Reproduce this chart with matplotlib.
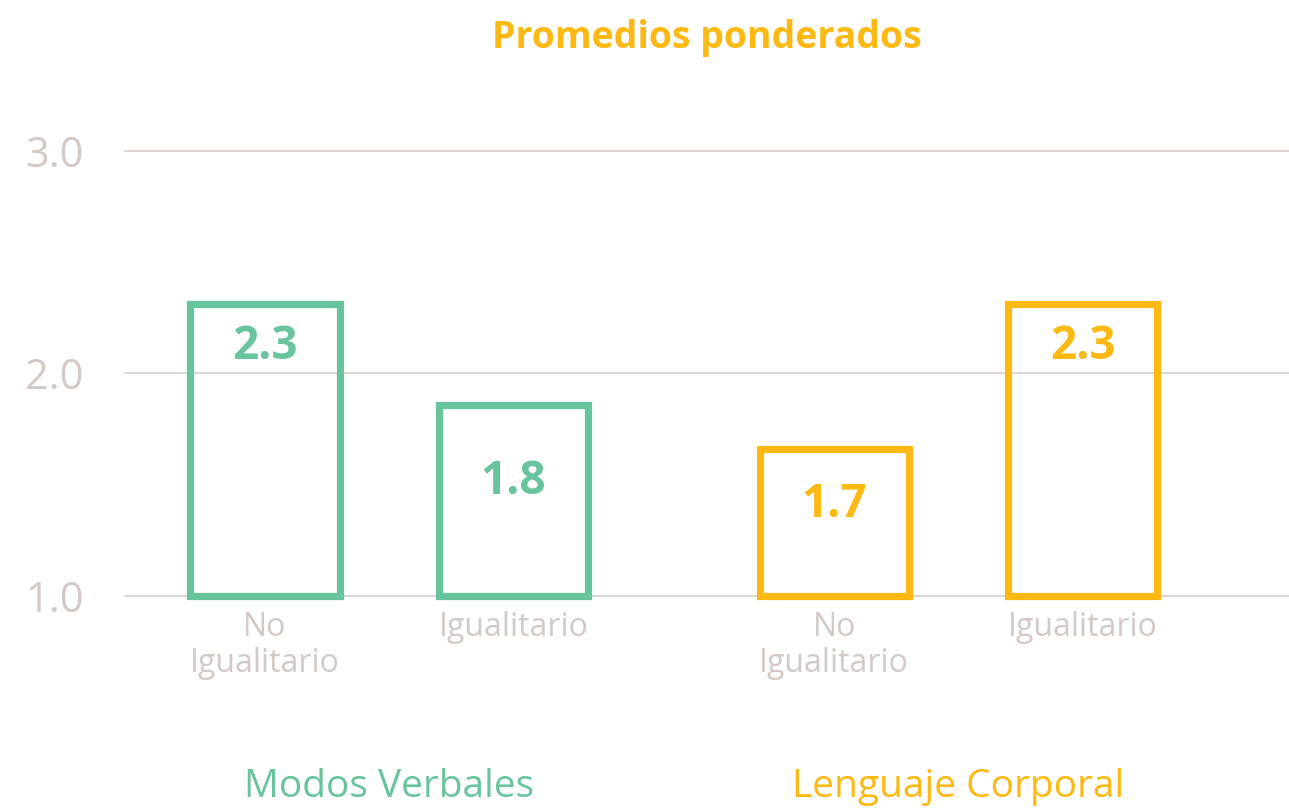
import numpy as np
import matplotlib
matplotlib.use("Agg")
from matplotlib import pyplot as plt

# data
groups = ["Modos Verbales", "Lenguaje Corporal"]
categories = ["No\nIgualitario", "Igualitario", "No\nIgualitario", "Igualitario"]
values = [2.31, 1.86, 1.66, 2.31]
value_labels = ["2.3", "1.8", "1.7", "2.3"]
yticks = [1.0, 2.0, 3.0]

green = "#68C49C"
orange = "#FDB913"
grey = "#D3CAC5"
bar_colors = [green, green, orange, orange]
group_colors = [green, orange]

plt.rcParams['font.family'] = ['Open Sans', 'DejaVu Sans']

fig = plt.figure(figsize=(12.89, 8.11), dpi=100)
ax = fig.add_axes([0.097, 0.265, 0.903, 0.549])

x = np.array([0, 1, 2.29, 3.29])
ax.bar(x, np.array(values) - 1, bottom=1.0, width=0.6, fill=False,
       edgecolor=bar_colors, linewidth=5.2, clip_on=False, zorder=3)

# value labels, dropped a bit below each bar top (in pixels)
label_drop = [42, 77, 55, 42]
for xi, v, lab, c, d in zip(x, values, value_labels, bar_colors, label_drop):
    ax.annotate(lab, (xi, v), xytext=(0, -d * 0.72), textcoords="offset points",
                ha="center", va="center", fontsize=33, fontweight="bold", color=c)

ax.set_xlim(-0.563, 4.12)
ax.set_ylim(1.0, 3.0)
ax.set_yticks(yticks)
ax.set_yticklabels([f"{t:.1f}" for t in yticks])
ax.set_xticks(x)
ax.set_xticklabels(categories, linespacing=1.1)
for t in yticks:
    ax.axhline(t, color="#D8D0CC", linewidth=1.2, zorder=1, clip_on=False)

for s in ax.spines.values():
    s.set_visible(False)
ax.tick_params(axis="y", length=0, pad=30, labelsize=30, labelcolor=grey)
ax.tick_params(axis="x", length=0, pad=11, labelsize=23, labelcolor=grey)

# group labels under each pair
gx = [(x[0] + x[1]) / 2, (x[2] + x[3]) / 2]
for g, gxi, c in zip(groups, gx, group_colors):
    ax.text(gxi, -(797 - 596) / 445.0, g, transform=ax.get_xaxis_transform(),
            ha="center", va="baseline", fontsize=28, color=c)

ax.set_title("Promedios ponderados", fontsize=27, fontweight="bold",
             color=orange, pad=74)

fig.savefig("out.png", dpi=100)
